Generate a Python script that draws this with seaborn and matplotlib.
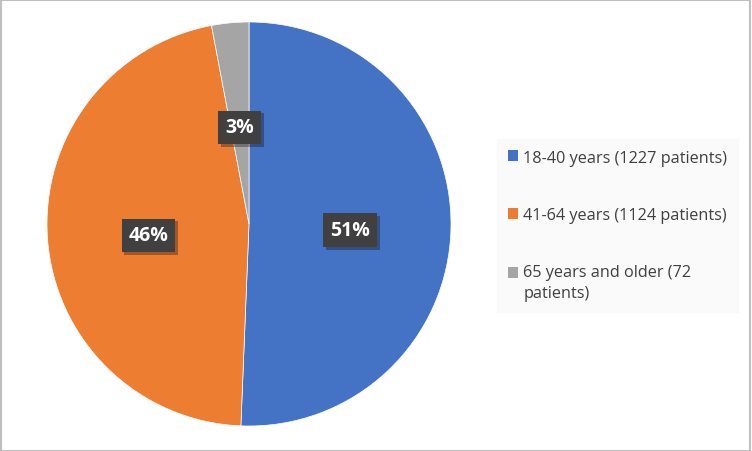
import matplotlib
matplotlib.use("Agg")
import matplotlib.pyplot as plt
import matplotlib.patches as mpatches
import matplotlib.patheffects as pe
from matplotlib.legend_handler import HandlerPatch
import seaborn as sns

sns.set_theme(style="white")
plt.rcParams['font.family'] = ['Open Sans', 'DejaVu Sans']

categories = ["18-40 years (1227 patients)", "41-64 years (1124 patients)",
              "65 years and older (72\npatients)"]
patients = [1227, 1124, 72]
colors = ["#4472C4", "#ED7D31", "#A5A5A5"]

fig = plt.figure(figsize=(7.52, 4.52), dpi=100)
fig.patch.set_facecolor("white")
ax = fig.add_axes([47 / 752, 25 / 452, 404 / 752, 404 / 452])

wedges, texts, autotexts = ax.pie(
    patients, colors=colors, startangle=90, counterclock=False,
    autopct=lambda p: f"{p:.0f}%", pctdistance=0.5,
    wedgeprops=dict(edgecolor="white", linewidth=0.5),
    textprops=dict(color="white", fontsize=14, fontweight="bold"))
ax.set_xlim(-1, 1)
ax.set_ylim(-1, 1)
ax.set_aspect("equal")
for t in autotexts:
    x, y = t.get_position()
    t.set_position((x, y - 0.02))
    t.set_bbox(dict(boxstyle="square,pad=0.35", facecolor="#404040",
                    edgecolor="none"))
    t.get_bbox_patch().set_path_effects(
        [pe.SimplePatchShadow(offset=(2, -2), alpha=0.35), pe.Normal()])

fs = 11.7


class TopAlignedHandler(HandlerPatch):
    def __init__(self, shift=0.0, **kw):
        super().__init__(**kw)
        self.shift = shift

    def create_artists(self, legend, orig_handle, xdescent, ydescent,
                       width, height, fontsize, trans):
        p = mpatches.Rectangle((-xdescent, -ydescent + self.shift),
                               width, height)
        self.update_prop(p, orig_handle, legend)
        p.set_edgecolor("none")
        p.set_transform(trans)
        return [p]


handler_map = {wedges[0]: TopAlignedHandler(),
               wedges[1]: TopAlignedHandler(),
               wedges[2]: TopAlignedHandler(shift=0.68 * fs)}

leg = fig.legend(wedges, categories, loc="upper left",
                 bbox_to_anchor=(497 / 752, 1 - 140 / 452),
                 frameon=True, fancybox=False, fontsize=fs,
                 handlelength=0.67, handleheight=0.67, handletextpad=0.3,
                 labelspacing=2.55, borderpad=0.65, borderaxespad=0,
                 handler_map=handler_map)
leg.get_frame().set_facecolor("#f9f9f9")
leg.get_frame().set_edgecolor("#f9f9f9")
for t in leg.get_texts():
    t.set_color("#404040")
    t.set_linespacing(1.4)

fig.add_artist(mpatches.Rectangle((0.0007, 0.001), 0.997, 0.997,
                                  transform=fig.transFigure, fill=False,
                                  edgecolor="#bfbfbf", linewidth=1.5))

fig.savefig("out.png", dpi=100)
